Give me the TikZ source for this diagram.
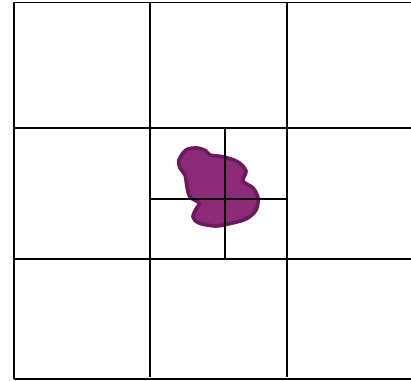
\documentclass[tikz,border=0pt]{standalone}
\definecolor{blobfill}{RGB}{140,42,122}
\definecolor{blobedge}{RGB}{108,26,92}
\begin{document}
\begin{tikzpicture}[x=1pt,y=-1pt,
  gridline/.style={line width=1.6pt,black},
  subline/.style={line width=1.6pt,black},
  blob/.style={fill=blobfill,draw=blobedge,line width=3.6pt,line join=round}]
\useasboundingbox (0,0) rectangle (411,380);
% blob
\draw[blob] plot[smooth cycle,tension=0.55] coordinates {
 (179,160) (186,150) (197,148) (206,151) (210,155) (224,157) (238,162)
 (246,171) (243,181) (253,188) (258,198) (256,210) (246,219) (228,224)
 (215,226) (199,223) (193,217) (196,209) (199,203) (190,197) (187,187)
 (185,175) (180,168)};
% main grid
\draw[gridline] (14,379) -- (14,2.5) -- (411,2.5);
\draw[gridline] (150,2.5) -- (150,377);
\draw[gridline] (287,2.5) -- (287,377);
\draw[gridline] (14,128) -- (411,128);
\draw[gridline] (14,259) -- (411,259);
\draw[gridline] (14,379) -- (411,379);
% sub grid
\draw[subline] (225,128) -- (225,259);
\draw[subline] (150,199) -- (287,199);
\end{tikzpicture}
\end{document}
